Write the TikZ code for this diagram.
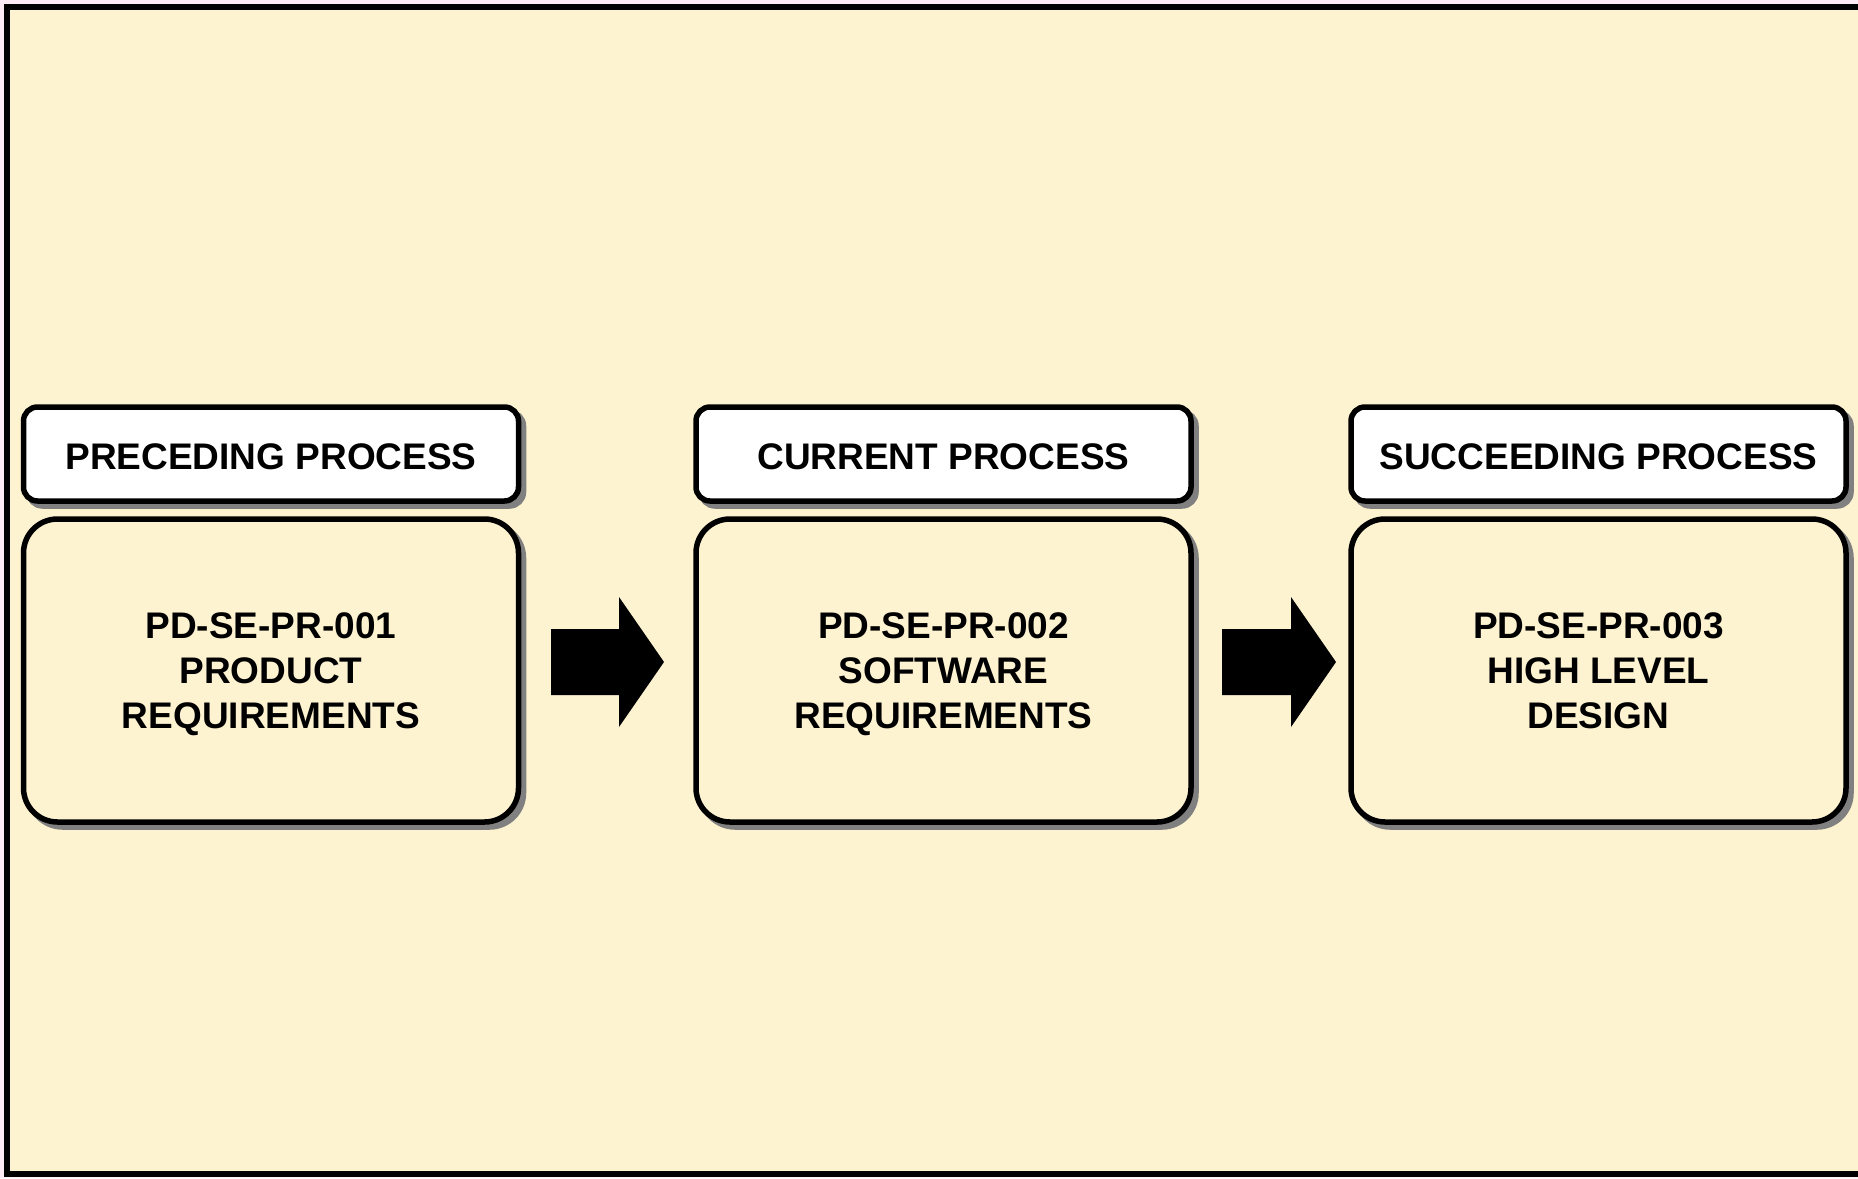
\documentclass[tikz,border=0pt]{standalone}
\usepackage{fontspec}
\setmainfont{Liberation Sans}
\usetikzlibrary{shadows,calc}
\definecolor{cream}{RGB}{253,243,208}
\definecolor{pinkbg}{RGB}{253,235,245}
\definecolor{shadowgray}{RGB}{128,128,128}
\tikzset{
  boxshadow/.style={drop shadow={shadow xshift=5pt,shadow yshift=-5pt,fill=shadowgray,draw=shadowgray,line width=5.5pt,opacity=1}},
  headbox/.style={draw=black,line width=5.5pt,fill=white,rounded corners=14pt,
    minimum width=495pt,minimum height=94pt,inner sep=0pt,outer sep=0pt,boxshadow,
    text height=31.5pt,text depth=0pt,
    font=\bfseries\fontsize{37}{45}\selectfont},
  mainbox/.style={draw=black,line width=5.5pt,fill=cream,rounded corners=34pt,
    minimum width=495pt,minimum height=303pt,inner sep=0pt,outer sep=0pt,boxshadow,align=center,
    text depth=0pt,
    font=\bfseries\fontsize{37}{45}\selectfont},
  fatarrow/.style={fill=black}
}
\begin{document}
\begin{tikzpicture}[x=1pt,y=-1pt]
\useasboundingbox (0,0) rectangle (1858,1178);
\fill[pinkbg] (0,0) rectangle (1858,1178);
\begin{scope}
\clip (0,0) rectangle (1858,1178);
\draw[line width=6pt,fill=cream] (7,6.5) rectangle (1880,1174);
\end{scope}

\node[headbox] (h1) at (271,454) {PRECEDING PROCESS};
\node[headbox] (h2) at (943.5,454) {CURRENT PROCESS};
\node[headbox] (h3) at (1598.5,454) {SUCCEEDING PROCESS};

\node[mainbox] (m1) at (271,670.5) {PD-SE-PR-001\\PRODUCT\\REQUIREMENTS};
\node[mainbox] (m2) at (943.5,670.5) {PD-SE-PR-002\\SOFTWARE\\REQUIREMENTS};
\node[mainbox] (m3) at (1598.5,670.5) {PD-SE-PR-003\\HIGH LEVEL\\DESIGN};

\coordinate (a1s) at ($(m1.east)+(32.5,-8.5)$);
\coordinate (a1e) at ($(m2.west)+(-32,-8.5)$);
\coordinate (a2s) at ($(m2.east)+(31,-8.5)$);
\coordinate (a2e) at ($(m3.west)+(-15,-8.5)$);

\fill[fatarrow] ($(a1s)+(0,-33)$) -- ($(a1e)+(-45,-33)$) -- ($(a1e)+(-45,-65)$) -- (a1e)
  -- ($(a1e)+(-45,65)$) -- ($(a1e)+(-45,33)$) -- ($(a1s)+(0,33)$) -- cycle;
\fill[fatarrow] ($(a2s)+(0,-33)$) -- ($(a2e)+(-45,-33)$) -- ($(a2e)+(-45,-65)$) -- (a2e)
  -- ($(a2e)+(-45,65)$) -- ($(a2e)+(-45,33)$) -- ($(a2s)+(0,33)$) -- cycle;
\end{tikzpicture}
\end{document}
